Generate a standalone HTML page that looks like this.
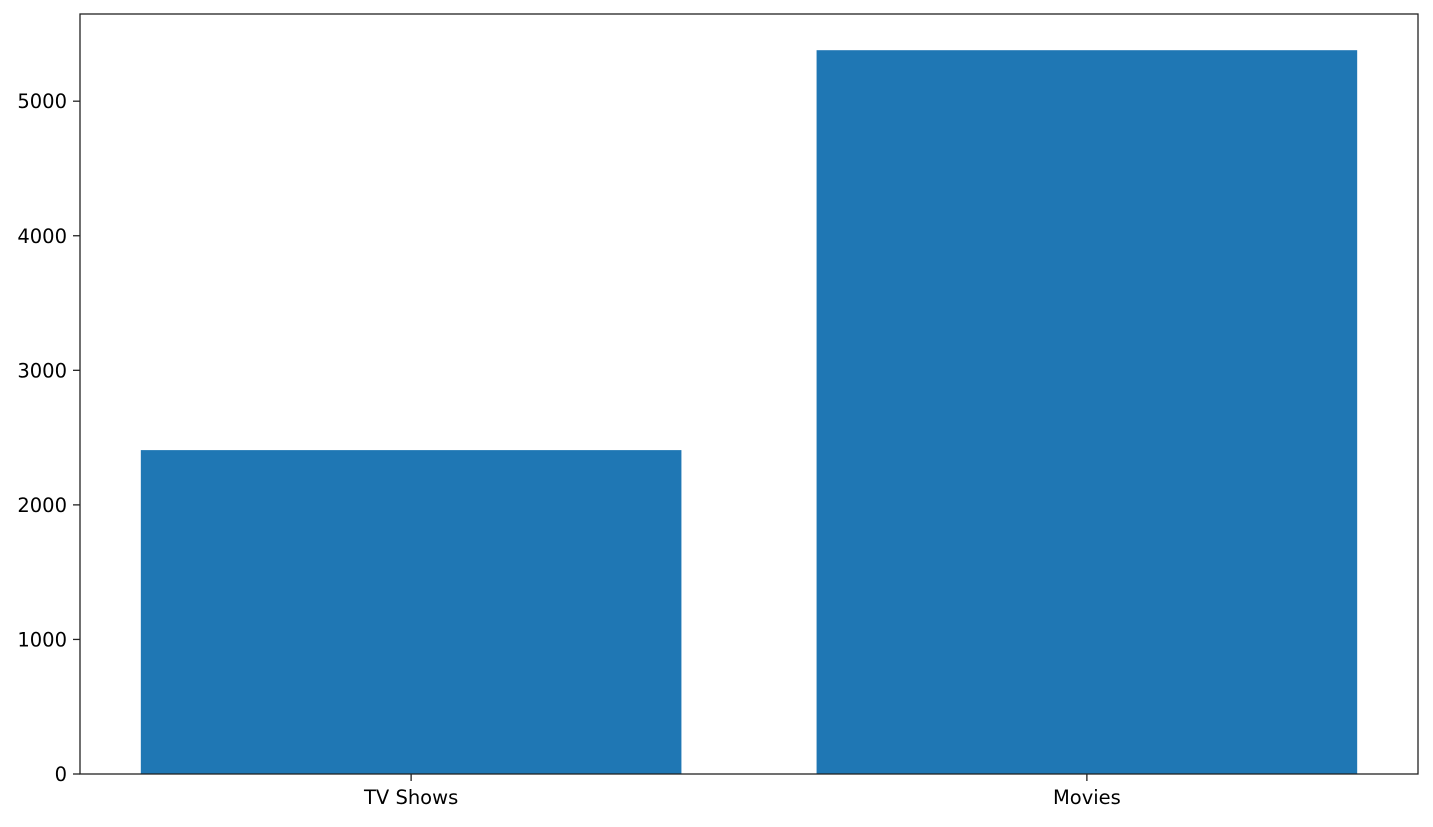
<!DOCTYPE html>
<html><head><meta charset="utf-8"><style>
body{margin:0;background:#fff;}
svg text{font-family:"DejaVu Sans","Liberation Sans",sans-serif;font-size:19.5px;fill:#000;}
</style></head><body>
<svg id="chart" width="1433" height="822" xmlns="http://www.w3.org/2000/svg"></svg>
<script>
const categories = ["TV Shows", "Movies"];
const counts = [2407, 5379];
const yTicks = [0, 1000, 2000, 3000, 4000, 5000];

const svg = document.getElementById('chart');
const NS = 'http://www.w3.org/2000/svg';
const L = 80, R = 1418, T = 14, B = 774;
const yMax = Math.max(...counts) * 1.05;
const lo = -0.4, hi = categories.length - 1 + 0.4, span = hi - lo;
const xMin = lo - 0.05 * span, xMax = hi + 0.05 * span;
const xs = v => L + (v - xMin) / (xMax - xMin) * (R - L);
const ys = v => B - v / yMax * (B - T);
function mk(tag, attrs) { const e = document.createElementNS(NS, tag); for (const k in attrs) e.setAttribute(k, attrs[k]); svg.appendChild(e); return e; }

categories.forEach((c, i) => {
  const b = mk('rect', {x: xs(i - 0.4), y: ys(counts[i]), width: xs(i + 0.4) - xs(i - 0.4), height: B - ys(counts[i]), fill: '#1f77b4'});
  
  
  const t = mk('line', {x1: xs(i), x2: xs(i), y1: B, y2: B + 7, stroke: '#222', 'stroke-width': 1.3});
  
  
  const lb = mk('text', {x: xs(i), y: B + 30, 'text-anchor': 'middle'});
  lb.textContent = c;
  
  
});
yTicks.forEach(v => {
  const t = mk('line', {x1: L - 7, x2: L, y1: ys(v), y2: ys(v), stroke: '#222', 'stroke-width': 1.3});
  
  
  const lb = mk('text', {x: L - 13, y: ys(v) + 7, 'text-anchor': 'end'});
  lb.textContent = v;
  
  
});
const frame = mk('rect', {x: L, y: T, width: R - L, height: B - T, fill: 'none', stroke: '#222', 'stroke-width': 1.3});


</script>
</body></html>
